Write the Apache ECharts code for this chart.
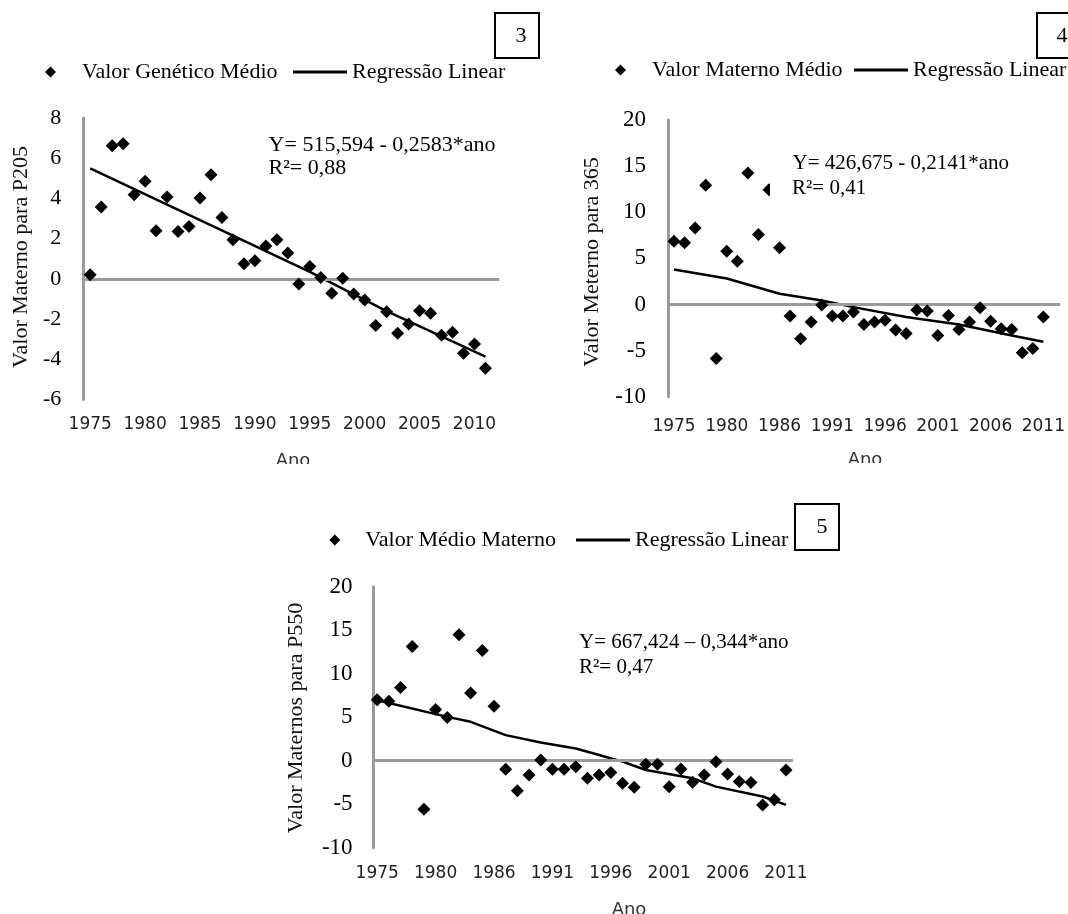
<!DOCTYPE html>
<html><head><meta charset="utf-8">
<script src="https://cdn.jsdelivr.net/npm/echarts@6/dist/echarts.min.js"></script>
<style>html,body{margin:0;padding:0;background:#fff}#c{width:1068px;height:914px}</style>
</head><body><div id="c"></div>
<script>
// ---------- data ----------
const years1 = [1975,1976,1977,1978,1979,1980,1981,1982,1983,1984,1985,1986,1987,1988,1989,1990,1991,1992,1993,1994,1995,1996,1997,1998,1999,2000,2001,2002,2003,2004,2005,2006,2007,2008,2009,2010,2011];
const years23 = [1975,1976,1977,1978,1979,1980,1981,1982,1983,1984,1986,1987,1988,1989,1990,1991,1992,1993,1994,1995,1996,1997,1998,1999,2000,2001,2002,2003,2004,2005,2006,2007,2008,2009,2010,2011];
const xLabelIdx = [0,5,10,15,20,25,30,35];

const yTicks1 = [-6,-4,-2,0,2,4,6,8];
const yTicks23 = [-10,-5,0,5,10,15,20];

const p205 = [0.2,3.57,6.62,6.72,4.18,4.86,2.39,4.07,2.36,2.6,4.02,5.18,3.05,1.94,0.75,0.9,1.64,1.94,1.28,-0.25,0.61,0.07,-0.71,0.03,-0.75,-1.05,-2.32,-1.63,-2.7,-2.24,-1.59,-1.71,-2.8,-2.66,-3.7,-3.24,-4.45];
const p205Line = [[0,5.5],[13,2.15],[20,0.35],[27,-1.6],[36,-3.87]];

const p365 = [6.86,6.68,8.3,12.92,-5.85,5.78,4.69,14.26,7.58,12.45,6.14,-1.26,-3.72,-1.91,-0.07,-1.26,-1.26,-0.83,-2.17,-1.91,-1.7,-2.78,-3.14,-0.61,-0.72,-3.36,-1.19,-2.71,-1.91,-0.36,-1.81,-2.64,-2.71,-5.23,-4.77,-1.37];
const p365Line = [[0,3.79],[5,2.82],[10,1.16],[14,0.43],[17,-0.29],[22,-1.37],[27,-2.17],[32,-3.36],[35,-4.04]];

const p550 = [7.02,6.83,8.4,13.13,-5.57,5.88,4.96,14.47,7.79,12.67,6.26,-0.99,-3.44,-1.64,0.08,-0.99,-0.99,-0.69,-2.02,-1.64,-1.37,-2.6,-3.05,-0.42,-0.42,-2.98,-0.95,-2.48,-1.64,-0.11,-1.53,-2.4,-2.52,-5.08,-4.5,-1.07];
const p550Line = [[0,6.95],[6,5.04],[8,4.47],[11,2.94],[14,2.1],[17,1.41],[19,0.65],[21,-0.11],[23,-1.07],[27,-2.02],[29,-2.98],[33,-4.12],[35,-5.08]];

// ---------- styles ----------
const SERIF = "'Liberation Serif','Times New Roman',serif";
const SANS = "'DejaVu Sans',sans-serif";
const AXIS_GRAY = '#9a9a9a';

function xAxisCfg(gi, cats, min, max, margin) {
  return {
    type: 'value', gridIndex: gi, min: min, max: max, position: 'bottom',
    axisLine: { show: false, onZero: false }, axisTick: { show: false }, splitLine: { show: false },
    axisLabel: { customValues: xLabelIdx, formatter: v => String(cats[Math.round(v)]),
      fontFamily: SANS, fontSize: 17, color: '#222', margin: margin }
  };
}
function yAxisCfg(gi, ticks, fs, margin) {
  return {
    type: 'value', gridIndex: gi, min: ticks[0], max: ticks[ticks.length - 1], interval: ticks[1] - ticks[0],
    axisLine: { show: true, onZero: false, lineStyle: { color: AXIS_GRAY, width: 3 } },
    axisTick: { show: false }, splitLine: { show: false },
    axisLabel: { fontFamily: SERIF, fontSize: fs, color: '#000', margin: margin }
  };
}
const zeroLine = { silent: true, symbol: 'none', label: { show: false },
  lineStyle: { color: AXIS_GRAY, width: 3, type: 'solid', opacity: 1 }, data: [{ yAxis: 0 }] };

function scatter(name, gi, vals) {
  return { type: 'scatter', name: name, xAxisIndex: gi, yAxisIndex: gi, z: 5,
    data: vals.map((v, i) => [i, v]), symbol: 'diamond', symbolSize: [13, 13],
    itemStyle: { color: '#000', opacity: 1 } };
}
function regLine(gi, pts) {
  return { type: 'line', name: 'Regressão Linear', xAxisIndex: gi, yAxisIndex: gi, z: 4,
    data: pts, symbol: 'none', showSymbol: false,
    lineStyle: { color: '#000', width: 2.5 }, itemStyle: { color: '#000' }, markLine: zeroLine };
}
function legendDot(name, left, top, pad) {
  return { data: [name], left: left, top: top, padding: 0, icon: 'diamond', itemWidth: 11, itemHeight: 11,
    itemStyle: { color: '#000', opacity: 1 },
    selectedMode: false, textStyle: { fontFamily: SERIF, fontSize: 22, color: '#000', padding: [0, 0, 0, pad] } };
}
function legendLine(left, top) {
  return { data: ['Regressão Linear'], left: left, top: top, padding: 0, icon: 'rect', itemWidth: 54, itemHeight: 3,
    itemStyle: { color: '#000', opacity: 1 },
    selectedMode: false, textStyle: { fontFamily: SERIF, fontSize: 22, color: '#000' } };
}
function txt(x, y, s, opts) {
  return Object.assign({ type: 'text', x: x, y: y, z: 100,
    style: Object.assign({ text: s, fontFamily: SERIF, fontSize: 21, fill: '#000', align: 'left', verticalAlign: 'middle' }, opts || {}) });
}
function vtitle(x, y, s) {
  return { type: 'text', x: x, y: y, rotation: Math.PI / 2, z: 100,
    style: { text: s, fontFamily: SERIF, fontSize: 22, fill: '#111', align: 'center', verticalAlign: 'middle' } };
}
function box(x, y, w, h, n, tx, ty) {
  return [
    { type: 'rect', z: 100, shape: { x: x, y: y, width: w, height: h }, style: { fill: '#fff', stroke: '#000', lineWidth: 2 } },
    { type: 'text', z: 101, x: tx, y: ty, style: { text: n, fontFamily: SERIF, fontSize: 22, fill: '#000', align: 'center', verticalAlign: 'middle' } }
  ];
}
function ano(x, y) {
  return { type: 'text', x: x, y: y, z: 100,
    style: { text: 'Ano', fontFamily: SANS, fontSize: 18, fill: '#333', align: 'center', verticalAlign: 'middle' } };
}
function cover(x, y, w, h) {
  return { type: 'rect', z: 110, shape: { x: x, y: y, width: w, height: h }, style: { fill: '#fff' } };
}

const chart = echarts.init(document.getElementById('c'), null, { renderer: 'canvas' });
chart.setOption({
  animation: false,
  backgroundColor: '#fff',
  grid: [
    { left: 83.3, top: 118, width: 416, height: 281.5 },
    { left: 668, top: 120, width: 394, height: 276.7 },
    { left: 373.6, top: 586.7, width: 419.4, height: 261 }
  ],
  xAxis: [
    xAxisCfg(0, years1, -0.63, 37.26, 17),
    xAxisCfg(1, years23, -0.57, 36.6, 21),
    xAxisCfg(2, years23, -0.31, 35.6, 17)
  ],
  yAxis: [
    yAxisCfg(0, yTicks1, 22, 22),
    yAxisCfg(1, yTicks23, 23, 22),
    yAxisCfg(2, yTicks23, 23, 21)
  ],
  legend: [
    legendDot('Valor Genético Médio', 45, 61, 21),
    legendLine(293, 61),
    legendDot('Valor Materno Médio', 615, 59, 21),
    legendLine(854, 59),
    legendDot('Valor Médio Materno', 329.3, 529, 20),
    legendLine(576, 529)
  ],
  graphic: [
    ...box(495, 13, 44, 45, '3', 521, 36),
    ...box(1037, 13, 44, 45, '4', 1062, 36),
    ...box(795, 504, 44, 46, '5', 822, 527),
    txt(268.6, 145, 'Y= 515,594 - 0,2583*ano', { fontSize: 22 }),
    txt(268.6, 168, 'R²= 0,88', { fontSize: 22 }),
    txt(792.5, 163, 'Y= 426,675 - 0,2141*ano'),
    txt(770, 188, 'R²= 0,41', { backgroundColor: '#fff', padding: [0, 0, 0, 22] }),
    txt(579, 642, 'Y= 667,424 – 0,344*ano'),
    txt(579, 667, 'R²= 0,47'),
    vtitle(21, 257, 'Valor Materno para P205'),
    vtitle(592, 262, 'Valor Meterno para 365'),
    vtitle(296, 718, 'Valor Maternos para P550'),
    ano(293, 461), ano(865, 460), ano(629, 910),
    cover(260, 464, 70, 24), cover(830, 463, 70, 24)
  ],
  series: [
    scatter('Valor Genético Médio', 0, p205), regLine(0, p205Line),
    scatter('Valor Materno Médio', 1, p365), regLine(1, p365Line),
    scatter('Valor Médio Materno', 2, p550), regLine(2, p550Line)
  ]
});
</script></body></html>
